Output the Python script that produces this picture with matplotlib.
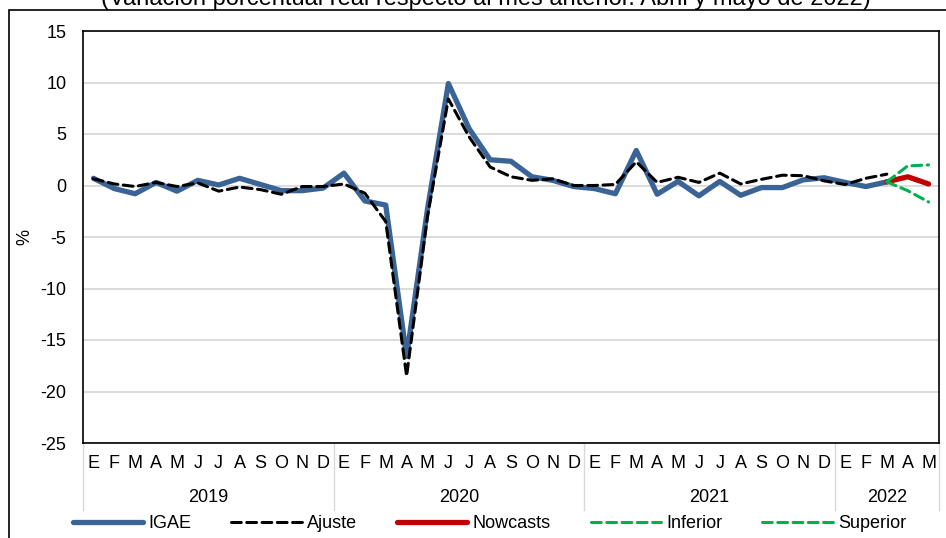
import matplotlib
matplotlib.use("Agg")
import matplotlib.pyplot as plt
import matplotlib.transforms as mtransforms
from matplotlib.lines import Line2D
from matplotlib.patches import Rectangle
import numpy as np

plt.rcParams['font.family'] = ['Liberation Sans', 'DejaVu Sans']
plt.rcParams['axes.unicode_minus'] = False

# Datos: variación % mensual, enero 2019 - mayo 2022
meses = ['E', 'F', 'M', 'A', 'M', 'J', 'J', 'A', 'S', 'O', 'N', 'D'] * 3 + ['E', 'F', 'M', 'A', 'M']
anios = ['2019', '2020', '2021', '2022']
meses_por_anio = [12, 12, 12, 5]

igae = [0.7, -0.3, -0.8, 0.3, -0.55, 0.5, 0.05, 0.7, 0.1, -0.5, -0.5, -0.25,
        1.2, -1.5, -1.9, -16.6, -2.3, 9.9, 5.5, 2.5, 2.35, 0.85, 0.5, -0.1,
        -0.3, -0.8, 3.4, -0.85, 0.4, -1.0, 0.4, -0.95, -0.2, -0.2, 0.55, 0.75,
        0.3, -0.1, 0.35]
ajuste = [0.65, 0.15, -0.1, 0.3, -0.1, 0.25, -0.55, -0.15, -0.4, -0.85, -0.1, -0.1,
          0.15, -0.75, -3.5, -18.5, -3.0, 8.4, 4.7, 1.8, 0.85, 0.5, 0.65, 0.0,
          0.0, 0.1, 2.3, 0.3, 0.8, 0.3, 1.2, 0.15, 0.6, 1.0, 0.95, 0.45,
          0.1, 0.7, 1.1]
nowcasts = [0.35, 0.85, 0.15]
inferior = [0.35, -0.5, -1.6]
superior = [0.35, 1.9, 2.0]

azul = '#3A6496'
rojo = '#C00000'
verde = '#00B050'
fs = 13

fig = plt.figure(figsize=(9.46, 5.38), dpi=100)
W, H = 946, 538
ax = fig.add_axes([83 / W, (H - 443) / H, (939 - 83) / W, (443 - 31) / H])

x_hist = np.arange(len(igae))
x_fc = np.arange(len(igae) - 1, len(igae) - 1 + len(nowcasts))

ax.plot(x_hist, igae, color=azul, lw=3.8, solid_joinstyle='round', solid_capstyle='round', label='IGAE', zorder=3)
ax.plot(x_hist, ajuste, color='black', lw=2.2, dashes=(3.2, 1.8), dash_capstyle='round', label='Ajuste', zorder=4)
ax.plot(x_fc, nowcasts, color=rojo, lw=3.8, solid_capstyle='round', label='Nowcasts', zorder=5)
ax.plot(x_fc, inferior, color=verde, lw=2.2, dashes=(3.2, 1.8), dash_capstyle='round', label='Inferior', zorder=6)
ax.plot(x_fc, superior, color=verde, lw=2.2, dashes=(3.2, 1.8), dash_capstyle='round', label='Superior', zorder=6)

ax.set_xlim(-0.5, len(meses) - 0.5)
ax.set_ylim(-25, 15)
ax.set_yticks(np.arange(-25, 16, 5))
ax.yaxis.grid(True, color='#D9D9D9', lw=1.3)
ax.set_axisbelow(True)
ax.tick_params(axis='y', length=0, pad=12, labelsize=fs)
ax.set_xticks(np.arange(len(meses)))
ax.set_xticklabels(meses)
ax.tick_params(axis='x', length=0, pad=8.5, labelsize=fs)
for s in ax.spines.values():
    s.set_color('black')
    s.set_linewidth(1.2)

ax.set_ylabel('%', fontsize=fs)
ax.yaxis.set_label_coords(-0.058, 0.5)

# años y separadores
trans = mtransforms.blended_transform_factory(ax.transData, ax.transAxes)
inicio = -0.5
for anio, n in zip(anios, meses_por_anio):
    ax.text(inicio + n / 2, -0.133, anio, transform=trans, ha='center', va='center', fontsize=fs)
    ax.add_line(Line2D([inicio, inicio], [0, -0.163], transform=trans, color='#D9D9D9', lw=1, clip_on=False))
    inicio += n
ax.add_line(Line2D([inicio, inicio], [0, -0.163], transform=trans, color='#D9D9D9', lw=1, clip_on=False))

ax.legend(loc='center', bbox_to_anchor=(0.475, (443 - 524) / 412), ncol=5, frameon=False,
          fontsize=fs, handlelength=3.9, handletextpad=0.3, columnspacing=2.2)

# titulo (cortado arriba) y marco
fig.text(0.514, 1 - 5 / H, '(Variación porcentual real respecto al mes anterior. Abril y mayo de 2022)',
         ha='center', va='baseline', fontsize=17)
fig.add_artist(Rectangle((9 / W, -0.1), 1.5, 1.1 - 10 / H, transform=fig.transFigure,
                         fill=False, edgecolor='black', lw=1.2))

fig.savefig('out.png', dpi=100)
